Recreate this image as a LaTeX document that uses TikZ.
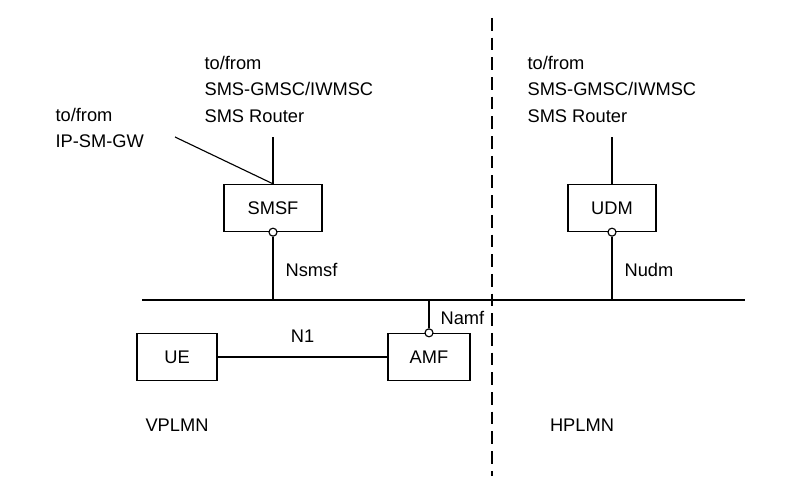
\documentclass[tikz,border=0pt]{standalone}
\usepackage{fontspec}
\setmainfont{Liberation Sans}
\usetikzlibrary{positioning}

\begin{document}
\begin{tikzpicture}[x=0.025cm, y=-0.025cm,
    nf/.style={rectangle, draw=black, thick, minimum width=2.45cm, minimum height=1.18cm, font=\fontsize{13}{15}\selectfont},
    lbl/.style={font=\fontsize{13}{15}\selectfont, inner sep=0pt},
    txt/.style={font=\fontsize{13}{18.6}\selectfont, align=left, inner sep=0pt, anchor=base west},
    sap/.style={circle, draw=black, thick, fill=white, inner sep=0pt, minimum size=0.2cm},
    every path/.style={thick}]
    \useasboundingbox (0,0) rectangle (796,486);

    % network functions
    \node (smsf) [nf] at (273,208) {SMSF};
    \node (udm) [nf, minimum width=2.2cm] at (612,208) {UDM};
    \node (amf) [nf, minimum width=2.05cm] at (429,357) {AMF};
    \node (ue) [nf, minimum width=2cm] at (177,357) {UE};

    % service access points
    \node (smsfsap) [sap] at (smsf.south) {};
    \node (udmsap) [sap] at (udm.south) {};
    \node (amfsap) [sap] at (amf.north) {};

    % bus and border
    \coordinate (busL) at (142,300);
    \coordinate (busR) at (745,300);
    \draw (busL) -- (busR);
    \coordinate (bdrT) at (492,18);
    \coordinate (bdrB) at (492,476);
    \draw[dashed, dash pattern=on 9pt off 5pt] (bdrT) -- (bdrB);

    \coordinate (smsfbus) at (273,300);
    \coordinate (udmbus) at (612,300);
    \coordinate (amfbus) at (429,300);
    \draw (smsfsap) -- (smsfbus);
    \draw (udmsap) -- (udmbus);
    \draw (amfsap) -- (amfbus);
    \draw (ue) -- node[lbl, above=10pt] {N1} (amf);

    \node (nsmsf) [lbl, anchor=west] at (285,270) {Nsmsf};
    \node (nudm) [lbl, anchor=west] at (624,270) {Nudm};
    \node (namf) [lbl, anchor=west] at (440,318) {Namf};

    % external interfaces
    \node (smsfext) [txt] at (204,122) {to/from\\SMS-GMSC/IWMSC\\SMS Router};
    \node (udmext) [txt] at (527,122) {to/from\\SMS-GMSC/IWMSC\\SMS Router};
    \node (ipsmgw) [txt] at (55,148) {to/from\\IP-SM-GW};
    \coordinate (smsfup) at (273,137);
    \coordinate (udmup) at (612,137);
    \coordinate (ipend) at (175,137);
    \draw (smsf.north) -- (smsfup);
    \draw (udm.north) -- (udmup);
    \draw (ipend) -- (smsf.north);

    \node (vplmn) [lbl] at (177,425) {VPLMN};
    \node (hplmn) [lbl] at (582,425) {HPLMN};
\end{tikzpicture}
\end{document}
